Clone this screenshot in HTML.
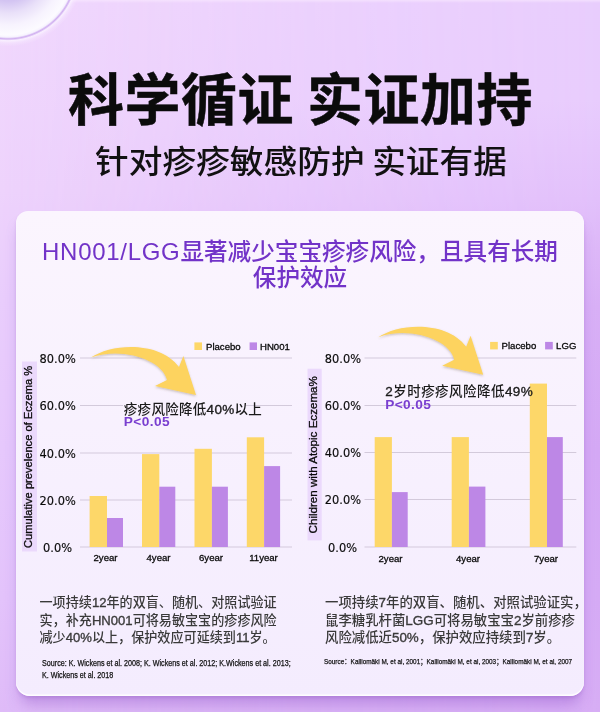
<!DOCTYPE html>
<html lang="zh-CN">
<head>
<meta charset="utf-8">
<style>
*{margin:0;padding:0;box-sizing:border-box}
html,body{width:600px;height:712px;overflow:hidden}
body{position:relative;font-family:"Liberation Sans","Noto Sans CJK SC",sans-serif;
background:linear-gradient(to bottom,#f1d8fd 0%,#eed3fc 26.7%,#e9cdfc 42%,#e6c8fc 63%,#e3c3fb 84%,#dfbbf8 100%);}
.bgR{position:absolute;left:0;top:0;width:600px;height:712px;
background:linear-gradient(to bottom,#e8cdfd 0%,#e8ccfd 14%,#e2c0fb 28%,#ddb7f8 35%,#d8aff6 43%,#d4a8f5 63%,#d5aaf5 84%,#d7adf5 100%);
-webkit-mask-image:linear-gradient(to right,rgba(0,0,0,0) 0%,rgba(0,0,0,0.58) 50%,#000 100%);mask-image:linear-gradient(to right,rgba(0,0,0,0) 0%,rgba(0,0,0,0.58) 50%,#000 100%);}
.abs{position:absolute;white-space:nowrap}
.bubble{position:absolute;left:-68.1px;top:-104.9px;width:152px;height:152px;border-radius:50%;
background:radial-gradient(circle 76px at 50% 50%, #cbbbee 0px, #d3c4f2 30px, #e9e0f9 42px, #f7f3fe 54px, #fcfbff 64px, #f6f2fe 66.2px, #dbc3f4 67.3px, #d0b0f0 67.9px, #e0c8f6 68.6px, rgba(250,243,255,0.85) 69.6px, rgba(248,238,255,0.4) 72px, rgba(240,215,253,0) 75.5px);}
.t1{left:0.5px;width:600px;top:60.5px;text-align:center;font-family:"Liberation Sans","Noto Sans CJK SC",sans-serif;font-weight:700;font-size:56px;line-height:80px;color:#0b0b0b;letter-spacing:0.5px;word-spacing:-3px;-webkit-text-stroke:0.5px #0b0b0b;white-space:pre}
.t2{left:1px;width:600px;top:140px;transform:scaleY(0.935);transform-origin:50% 0.3px;text-align:center;font-family:"Liberation Sans","Noto Sans CJK SC",sans-serif;font-weight:500;font-size:33.7px;line-height:46px;color:#111;word-spacing:-1.8px;white-space:pre}
.card{position:absolute;left:16px;top:211px;width:568px;height:485px;border-radius:12px 12px 14px 14px;
background:linear-gradient(to bottom,#fbf5fe,#f4ecfe);
box-shadow:inset 0 -1.5px 1px rgba(255,255,255,0.95),0 2px 3px rgba(120,60,170,0.16),0 12px 14px -4px rgba(130,70,190,0.36);}
.ct{left:0;width:600px;top:238.5px;text-align:center;font-family:"Liberation Sans","Noto Sans CJK SC",sans-serif;font-weight:500;font-size:23.6px;line-height:26.5px;color:#7233c8}
svg{position:absolute;left:0;top:0}
.ann{font-family:"Liberation Sans","Noto Sans CJK SC",sans-serif;font-weight:500;font-size:13.5px;color:#1a1a1a;line-height:16px}
.pv{font-family:"Liberation Sans",sans-serif;font-weight:bold;font-size:13.7px;letter-spacing:0.4px;color:#7a3fd0;line-height:14px}
.body{font-family:"Liberation Sans","Noto Sans CJK SC",sans-serif;font-weight:500;font-size:13.4px;line-height:17.5px;color:#3a3a3a}
.lt{-webkit-text-stroke:0.35px currentColor}
.src{font-family:"Liberation Sans","Noto Sans CJK SC",sans-serif;font-size:8.2px;line-height:13.5px;color:#111;letter-spacing:-0.4px;-webkit-text-stroke:0.25px #111}
</style>
</head>
<body>
<div class="bgR"></div>
<div style="position:absolute;left:0;top:0;width:600px;height:3px;background:linear-gradient(to bottom,rgba(250,235,255,0.6),rgba(250,235,255,0))"></div>
<div class="bubble"></div>
<div class="abs t1">科学循证 实证加持</div>
<div class="abs t2">针对疹疹敏感防护 实证有据</div>
<div class="card"></div>
<div class="abs ct"><span style="font-size:24px;letter-spacing:0.7px">HN001/LGG</span>显著减少宝宝疹疹风险，且具有长期<br>保护效应</div>

<svg width="600" height="712" viewBox="0 0 600 712">
<defs>
<filter id="sh" x="-20%" y="-20%" width="140%" height="160%"><feDropShadow dx="0" dy="1.2" stdDeviation="1.2" flood-color="#6a5a40" flood-opacity="0.35"/></filter>
</defs>
<g font-family="Liberation Sans, sans-serif" fill="#0a0a0a" stroke="#0a0a0a" stroke-width="0.3">
<!-- LEFT CHART -->
<rect x="22" y="361.5" width="15" height="190" fill="#ebd9fc" stroke="none"/>
<text transform="translate(32.4,456.9) rotate(-90)" text-anchor="middle" font-size="11.15">Cumulative prevelence of Eczema %</text>
<g stroke="#d3cadb" stroke-width="1.2" fill="none">
<line x1="80" y1="358" x2="292" y2="358"/>
<line x1="80" y1="405.5" x2="123" y2="405.5"/><line x1="246" y1="405.5" x2="292" y2="405.5"/>
<line x1="80" y1="453" x2="292" y2="453"/>
<line x1="80" y1="500" x2="292" y2="500"/>
<line x1="80" y1="547" x2="292" y2="547"/>
</g>
<g font-size="11.4" text-anchor="end" font-family="DejaVu Sans, sans-serif" stroke-width="0.15">
<text x="75.8" y="362.5">80.0%</text>
<text x="75.8" y="410">60.0%</text>
<text x="75.8" y="457.5">40.0%</text>
<text x="75.8" y="504.5">20.0%</text>
<text x="72" y="551.5">0.0%</text>
</g>
<g fill="#fdd769" stroke="none">
<rect x="89.6" y="496" width="17.4" height="51"/>
<rect x="142" y="454.1" width="17.3" height="92.9"/>
<rect x="194.5" y="448.8" width="17.4" height="98.2"/>
<rect x="246.8" y="437.3" width="17.3" height="109.7"/>
</g>
<g fill="#bd87e6" stroke="none">
<rect x="107" y="518" width="16" height="29"/>
<rect x="159.3" y="486.7" width="16" height="60.3"/>
<rect x="211.9" y="486.7" width="16" height="60.3"/>
<rect x="264.1" y="466.1" width="16" height="80.9"/>
</g>
<g font-size="9.6" text-anchor="middle">
<text x="105.5" y="560.7">2year</text>
<text x="158.5" y="560.7">4year</text>
<text x="211" y="560.7">6year</text>
<text x="263.5" y="560.7">11year</text>
</g>
<rect x="194.4" y="342.4" width="7.6" height="7.6" fill="#fdd769" stroke="none"/>
<rect x="249.6" y="342.4" width="7.4" height="7.6" fill="#bd87e6" stroke="none"/>
<g font-size="9.6">
<text x="206" y="349.6">Placebo</text>
<text x="260" y="349.6">HN001</text>
</g>
<path filter="url(#sh)" stroke="none" fill="#fdd35e" d="M91 357.6 C112 343 160 341 179 367 L183.4 356 L196 395 L155 386 L167 380 C163 360 122 346 91 357.6 Z"/>

<!-- RIGHT CHART -->
<rect x="307.5" y="368.7" width="14.2" height="171.7" fill="#ebd9fc" stroke="none"/>
<text transform="translate(316.6,454.8) rotate(-90)" text-anchor="middle" font-size="11.6">Children with Atopic Eczema%</text>
<g stroke="#d3cadb" stroke-width="1.2" fill="none">
<line x1="364.5" y1="358" x2="576.3" y2="358"/>
<line x1="364.5" y1="405.5" x2="576.3" y2="405.5"/>
<line x1="364.5" y1="452.5" x2="576.3" y2="452.5"/>
<line x1="364.5" y1="499.5" x2="576.3" y2="499.5"/>
<line x1="364.5" y1="547" x2="576.3" y2="547"/>
</g>
<g font-size="11.4" text-anchor="end" font-family="DejaVu Sans, sans-serif" stroke-width="0.15">
<text x="361" y="362.5">80.0%</text>
<text x="361" y="410">60.0%</text>
<text x="361" y="457">40.0%</text>
<text x="361" y="504">20.0%</text>
<text x="357" y="551.5">0.0%</text>
</g>
<g fill="#fdd769" stroke="none">
<rect x="374.7" y="437.1" width="17.2" height="109.9"/>
<rect x="451.7" y="437.1" width="17.2" height="109.9"/>
<rect x="529.8" y="383.6" width="17.2" height="163.4"/>
</g>
<g fill="#bd87e6" stroke="none">
<rect x="391.9" y="492.1" width="15.8" height="54.9"/>
<rect x="468.9" y="486.6" width="16.5" height="60.4"/>
<rect x="547" y="437.1" width="15.8" height="109.9"/>
</g>
<g font-size="9.6" text-anchor="middle">
<text x="390.5" y="561.5">2year</text>
<text x="468" y="561.5">4year</text>
<text x="546" y="561.5">7year</text>
</g>
<rect x="490.1" y="341.9" width="7.7" height="7.5" fill="#fdd769" stroke="none"/>
<rect x="545.1" y="341.9" width="7.7" height="7.5" fill="#bd87e6" stroke="none"/>
<g font-size="9.6">
<text x="501.6" y="349.2">Placebo</text>
<text x="556.1" y="349.2">LGG</text>
</g>
<path filter="url(#sh)" stroke="none" fill="#fdd35e" transform="translate(287.2,-20.3)" d="M91 357.6 C112 343 160 341 179 367 L183.4 356 L196 395 L155 386 L167 380 C163 360 122 346 91 357.6 Z"/>
</g>
</svg>

<div class="abs ann" style="left:123.8px;top:402px;letter-spacing:0.3px">疹疹风险降低<span class="lt">40%</span>以上</div>
<div class="abs pv" style="left:123.8px;top:415.4px">P&lt;0.05</div>
<div class="abs ann" style="left:385.3px;top:384px;letter-spacing:0.45px"><span class="lt">2</span>岁时疹疹风险降低<span class="lt">49%</span></div>
<div class="abs pv" style="left:385.2px;top:397.8px">P&lt;0.05</div>

<div class="abs body" style="left:39.5px;top:594px;width:250px;font-size:13.1px">一项持续<span class="lt">12</span>年的双盲、随机、对照试验证<br>实，补充<span class="lt">HN001</span>可将易敏宝宝的疹疹风险<br>减少<span class="lt">40%</span>以上，保护效应可延续到<span class="lt">11</span>岁。</div>
<div class="abs body" style="left:325px;top:594px;width:256px">一项持续<span class="lt">7</span>年的双盲、随机、对照试验证实，<br>鼠李糖乳杆菌<span class="lt">LGG</span>可将易敏宝宝<span class="lt">2</span>岁前疹疹<br>风险减低近<span class="lt">50%</span>，保护效应持续到<span class="lt">7</span>岁。</div>
<div class="abs src" style="left:41.5px;top:656.7px;line-height:12.5px;font-size:8.3px;letter-spacing:0px;transform:scaleX(0.864);transform-origin:0 0">Source: K. Wickens et al. 2008; K. Wickens et al. 2012; K.Wickens et al. 2013;<br>K. Wickens et al. 2018</div>
<div class="abs src" style="left:324px;top:655.3px;font-size:7.6px;letter-spacing:0px;transform:scaleX(0.841);transform-origin:0 0">Source：Kalliomäki M, et al, 2001；Kalliomäki M, et al, 2003；Kalliomäki M, et al, 2007</div>
</body>
</html>
